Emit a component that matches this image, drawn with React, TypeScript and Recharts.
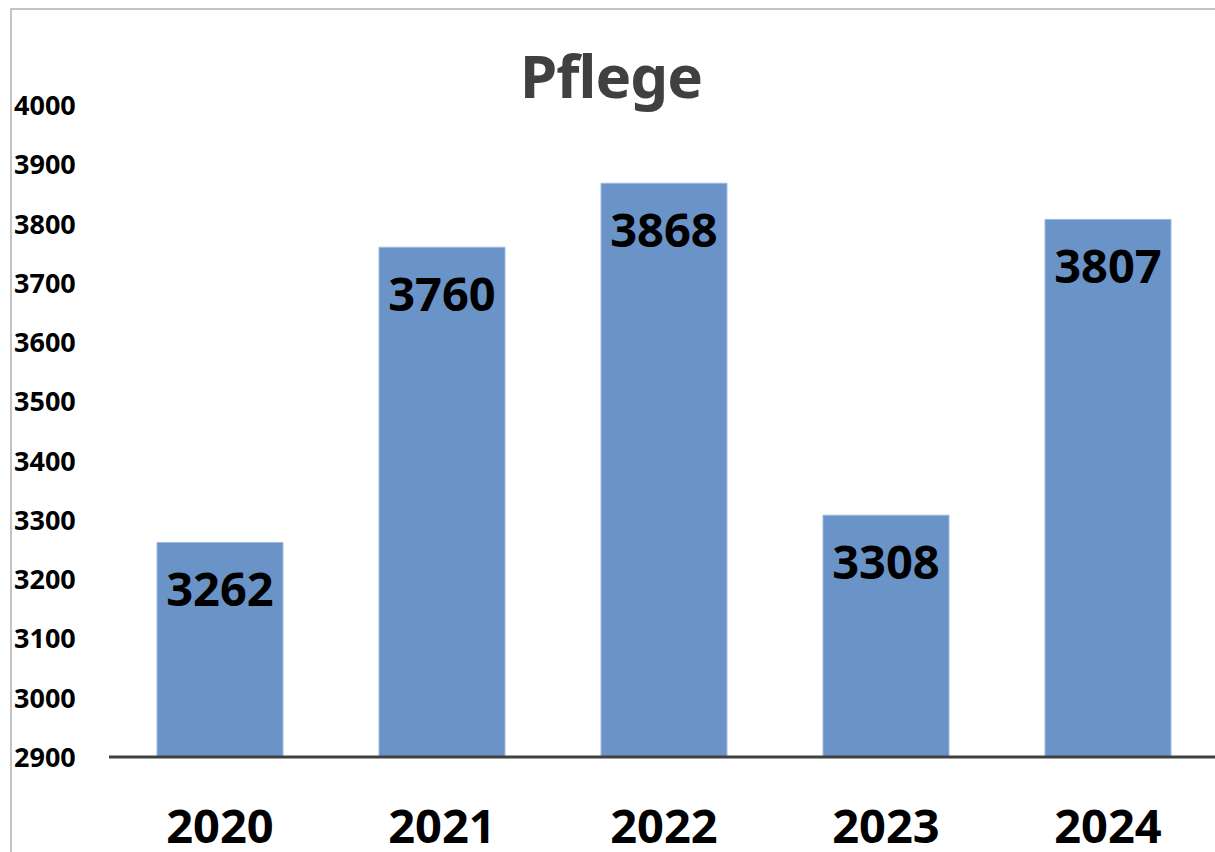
import React from "react";
import { BarChart, Bar, XAxis, YAxis, LabelList } from "recharts";

const categories = ["2020", "2021", "2022", "2023", "2024"];
const values = [3262, 3760, 3868, 3308, 3807];
const yTicks = [2900, 3000, 3100, 3200, 3300, 3400, 3500, 3600, 3700, 3800, 3900, 4000];
const title = "Pflege";

const data = categories.map((c, i) => ({ year: c, value: values[i] }));

const FONT = "'Noto Sans', 'Open Sans', sans-serif";

const YTick = (props: any) => {
  const { y, payload } = props;
  return (
    <text x={14} y={y + 10} textAnchor="start" fontFamily={FONT} fontWeight={700} fontSize={27} fill="#000">
      {payload.value}
    </text>
  );
};

const XTick = (props: any) => {
  const { x, payload } = props;
  return (
    <text x={x} y={843} textAnchor="middle" fontFamily={FONT} fontWeight={700} fontSize={47} fill="#000">
      {payload.value}
    </text>
  );
};

const ValueLabel = (props: any) => {
  const { x, y, width, value } = props;
  return (
    <text x={x + width / 2} y={y + 64} textAnchor="middle" fontFamily={FONT} fontWeight={700} fontSize={47} fill="#000">
      {value}
    </text>
  );
};

export default function App() {
  return (
    <div style={{ position: "absolute", left: 0, top: 0, width: 1215, height: 852, overflow: "hidden", background: "#fff" }}>
      <div style={{ position: "absolute", left: 10, top: 8, width: 1215, height: 852, borderLeft: "2px solid #c4c4c4", borderTop: "2px solid #c4c4c4" }} />
      <BarChart
        width={1220}
        height={852}
        data={data}
        margin={{ top: 105, right: 1, bottom: 0, left: 14 }}
        barCategoryGap={48}
      >
        <text x={611} y={98} textAnchor="middle" fontFamily={FONT} fontWeight={700} fontSize={60} letterSpacing={-1} fill="#404040">
          {title}
        </text>
        <YAxis
          type="number"
          domain={[2900, 4000]}
          ticks={yTicks}
          width={95}
          axisLine={false}
          tickLine={false}
          tick={<YTick />}
          interval={0}
        />
        <XAxis
          dataKey="year"
          height={95}
          axisLine={{ stroke: "#404040", strokeWidth: 3 }}
          tickLine={false}
          tick={<XTick />}
          interval={0}
        />
        <Bar dataKey="value" fill="#6a93c7" stroke="#9fbbe0" strokeWidth={1} isAnimationActive={false}>
          <LabelList dataKey="value" content={<ValueLabel />} />
        </Bar>
      </BarChart>
    </div>
  );
}
